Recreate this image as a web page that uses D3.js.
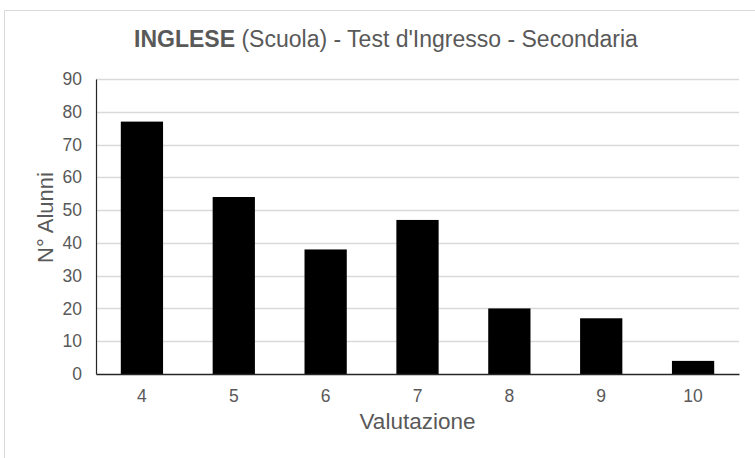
<!DOCTYPE html>
<html>
<head>
<meta charset="utf-8">
<script src="https://cdn.jsdelivr.net/npm/d3@7"></script>
<style>
    body { margin: 0; background: #fff; }
    text { font-family: "Liberation Sans", Arial, sans-serif; fill: #595959; }
</style>
</head>
<body>
<div id="chart"></div>
<script>
const W = 755, H = 458;

const categories = ["4", "5", "6", "7", "8", "9", "10"];
const values = [77, 54, 38, 47, 20, 17, 4];
const yTicks = [0, 10, 20, 30, 40, 50, 60, 70, 80, 90];

const margin = { top: 79, right: 16, bottom: 84, left: 96 };
const width = W - margin.left - margin.right;
const height = H - margin.top - margin.bottom;

const root = d3.select('#chart').append('svg')
    .attr('width', W)
    .attr('height', H);

// chart frame
root.append('path')
    .attr('d', `M4.5,${H} V10.5 H${W}`)
    .attr('fill', 'none')
    .attr('stroke', '#d9d9d9')
    .attr('stroke-width', 1);

const title = root.append('text')
    .attr('x', 386)
    .attr('y', 47)
    .attr('text-anchor', 'middle')
    .style('font-size', '23px');
title.append('tspan').style('font-weight', 'bold').text('INGLESE');
title.append('tspan').text(" (Scuola) - Test d'Ingresso - Secondaria");

const svg = root.append('g')
    .attr('transform', `translate(${margin.left}, ${margin.top})`);

const xScale = d3.scaleBand()
    .domain(categories)
    .range([0, width])
    .paddingInner(0.54)
    .paddingOuter(0.27);

const yScale = d3.scaleLinear()
    .domain([0, 90])
    .range([height, 0]);

// gridlines
svg.selectAll('.grid')
    .data(yTicks.filter(d => d > 0))
    .enter()
    .append('line')
    .attr('x1', 0)
    .attr('x2', width)
    .attr('y1', d => Math.round(yScale(d)) + 0.5)
    .attr('y2', d => Math.round(yScale(d)) + 0.5)
    .attr('stroke', '#d9d9d9')
    .attr('stroke-width', 1.3);

svg.selectAll('.bar')
    .data(values)
    .enter()
    .append('rect')
    .attr('x', (d, i) => xScale(categories[i]))
    .attr('y', d => yScale(d))
    .attr('width', xScale.bandwidth())
    .attr('height', d => height - yScale(d))
    .attr('fill', '#000');

const yAxis = svg.append('g')
    .call(d3.axisLeft(yScale).tickValues(yTicks).tickSize(0).tickPadding(14));
yAxis.select('.domain').attr('stroke', '#262626').attr('stroke-width', 1.2);
yAxis.selectAll('text').style('font-size', '17.5px').attr('fill', '#595959');

const xAxis = svg.append('g')
    .attr('transform', `translate(0, ${height})`)
    .call(d3.axisBottom(xScale).tickSize(0).tickPadding(16));
xAxis.select('.domain').attr('stroke', '#262626').attr('stroke-width', 1.5);
xAxis.selectAll('text').style('font-size', '17.5px').attr('fill', '#595959');

svg.append('text')
    .attr('x', width / 2)
    .attr('y', height + 55)
    .attr('text-anchor', 'middle')
    .style('font-size', '22.5px')
    .text('Valutazione');

svg.append('text')
    .attr('transform', 'rotate(-90)')
    .attr('x', -138.5)
    .attr('y', -43)
    .attr('text-anchor', 'middle')
    .style('font-size', '22px')
    .text('N° Alunni');
</script>
</body>
</html>
